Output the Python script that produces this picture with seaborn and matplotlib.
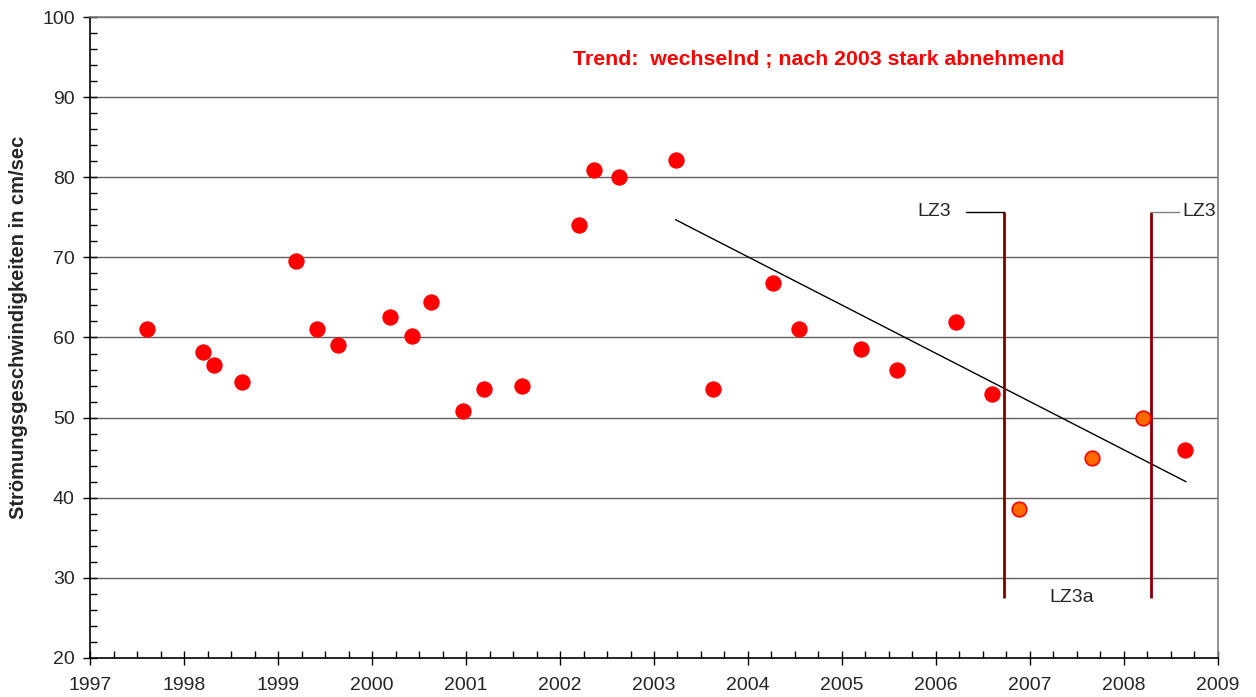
import numpy as np
import pandas as pd
import matplotlib
matplotlib.use("Agg")
import matplotlib.pyplot as plt
from matplotlib.ticker import MultipleLocator
import seaborn as sns

# measured values (decimal year, cm/sec)
red_years = [1997.61, 1998.20, 1998.32, 1998.62, 1999.19, 1999.41, 1999.64,
             2000.19, 2000.43, 2000.63, 2000.97, 2001.19, 2001.60,
             2002.20, 2002.36, 2002.63, 2003.23, 2003.63, 2004.27, 2004.54,
             2005.20, 2005.59, 2006.21, 2006.60, 2008.65]
red_speed = [61.0, 58.2, 56.6, 54.4, 69.5, 61.1, 59.0,
             62.5, 60.2, 64.4, 50.8, 53.6, 53.9,
             74.0, 80.9, 80.0, 82.1, 53.6, 66.8, 61.1,
             58.6, 55.9, 61.9, 52.9, 46.0]

orange_years = [2006.88, 2007.66, 2008.20]
orange_speed = [38.6, 45.0, 50.0]

trend_years = [2003.23, 2008.66]
trend_speed = [74.7, 42.0]

lz_years = [2006.72, 2008.29]
lz_bottom = 27.5
lz_top = 75.7

title_text = "Trend:  wechselnd ; nach 2003 stark abnehmend"
ylabel = "Strömungsgeschwindigkeiten in cm/sec"

sns.set_style("white")
plt.rcParams['font.family'] = ['Liberation Sans', 'DejaVu Sans']

fig = plt.figure(figsize=(12.56, 6.97), dpi=100)
ax = fig.add_axes([0.0717, 0.056, 0.898, 0.9196])

red_df = pd.DataFrame({"jahr": red_years, "v": red_speed})
orange_df = pd.DataFrame({"jahr": orange_years, "v": orange_speed})
trend_df = pd.DataFrame({"jahr": trend_years, "v": trend_speed})

# grid lines
for v in range(30, 101, 10):
    ax.axhline(v, color="#606060", lw=1.0, zorder=0)

sns.lineplot(data=trend_df, x="jahr", y="v", color="black", lw=1.0, ax=ax)

ax.vlines(lz_years, lz_bottom, lz_top, color="#800000", lw=2.0, zorder=2)

sns.scatterplot(data=red_df, x="jahr", y="v", color="#FF0000", s=120,
                edgecolor="#FF0000", linewidth=0.8, ax=ax, zorder=3)
sns.scatterplot(data=orange_df, x="jahr", y="v", color="#FF6A00", s=110,
                edgecolor="#FF0000", linewidth=1.2, ax=ax, zorder=3)

# LZ3 labels
ax.plot([lz_years[0] - 0.40, lz_years[0]], [lz_top, lz_top], color="black", lw=1.0)
ax.text(lz_years[0] - 0.56, lz_top, "LZ3", ha="right", va="center", fontsize=14)
ax.plot([lz_years[1], lz_years[1] + 0.30], [lz_top, lz_top], color="#808080", lw=1.0)
ax.text(lz_years[1] + 0.33, lz_top, "LZ3", ha="left", va="center", fontsize=14)
ax.text(2007.44, 27.6, "LZ3a", ha="center", va="center", fontsize=14)

ax.text(0.646, 0.934, title_text, transform=ax.transAxes, ha="center", va="center",
        color="#FF0000", fontsize=15.3, fontweight="bold")

ax.set_xlim(1997, 2009)
ax.set_ylim(20, 100)
ax.xaxis.set_major_locator(MultipleLocator(1))
ax.xaxis.set_minor_locator(MultipleLocator(0.25))
ax.yaxis.set_major_locator(MultipleLocator(10))
ax.yaxis.set_minor_locator(MultipleLocator(2))
ax.tick_params(which="major", direction="inout", length=10, width=1, labelsize=14,
               color="black", bottom=True, left=True)
ax.tick_params(which="minor", direction="in", length=5, width=1, color="black",
               bottom=True, left=True)
ax.tick_params(axis="x", which="major", pad=9)
ax.tick_params(axis="y", which="major", pad=6)
ax.set_xlabel("")
ax.set_ylabel(ylabel, fontsize=14.5, fontweight="bold")
ax.yaxis.set_label_coords(-0.055, 0.516)

for side in ["left", "bottom"]:
    ax.spines[side].set_color("black")
    ax.spines[side].set_linewidth(1.2)
for side in ["right", "top"]:
    ax.spines[side].set_color("#808080")
    ax.spines[side].set_linewidth(1.2)

fig.savefig("out.png", dpi=100)
